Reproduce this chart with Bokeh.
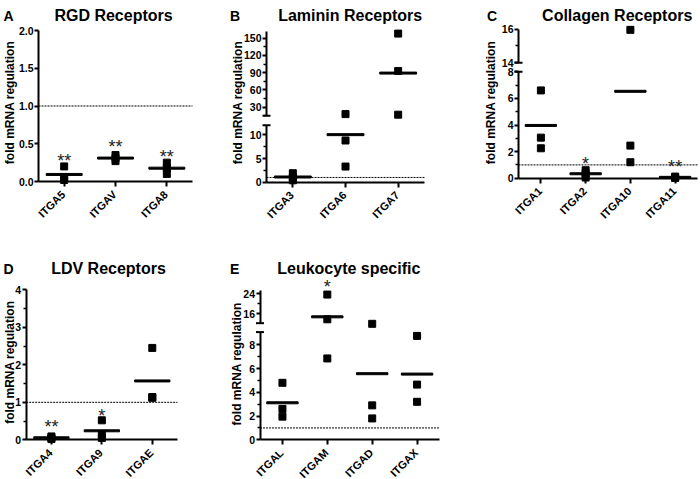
import math
import numpy as np
import pandas as pd
from bokeh.plotting import figure
from bokeh.models import Range1d, FixedTicker, NumeralTickFormatter, LinearAxis, ColumnDataSource
from bokeh.core.properties import value
from bokeh.embed import file_html
from bokeh.resources import INLINE

FONT = "Liberation Sans"
W, H = 700, 479

# ---------------- data ----------------
y_label = "fold mRNA regulation"

A_title, A_letter = "RGD Receptors", "A"
A_cats = ["ITGA5", "ITGAV", "ITGA8"]
A_vals = [[0.20, 0.06, 0.02], [0.35, 0.31, 0.27], [0.25, 0.18, 0.10]]
A_star = ["**", "**", "**"]
A_star_y = [0.34, 0.52, 0.39]

B_title, B_letter = "Laminin Receptors", "B"
B_cats = ["ITGA3", "ITGA6", "ITGA7"]
B_vals = [[1.9, 1.0, 0.4], [18.0, 8.8, 3.3], [158.0, 93.0, 17.0]]
B_star = ["", "", ""]
B_star_y = [None, None, None]

C_title, C_letter = "Collagen Receptors", "C"
C_cats = ["ITGA1", "ITGA2", "ITGA10", "ITGA11"]
C_vals = [[6.6, 3.05, 2.25], [0.6, 0.35, 0.05], [15.95, 2.45, 1.2], [0.12, 0.05, 0.02]]
C_star = ["", "*", "", "**"]
C_star_y = [None, 1.45, None, 1.2]

D_title, D_letter = "LDV Receptors", "D"
D_cats = ["ITGA4", "ITGA9", "ITGAE"]
D_vals = [[0.09, 0.05, 0.02], [0.52, 0.15, 0.05], [2.45, 1.14, 1.12]]
D_star = ["**", "*", ""]
D_star_y = [0.47, 0.78, None]

E_title, E_letter = "Leukocyte specific", "E"
E_cats = ["ITGAL", "ITGAM", "ITGAD", "ITGAX"]
E_vals = [[4.8, 2.6, 1.95], [23.7, 13.8, 6.85], [12.0, 2.9, 1.8], [8.75, 4.65, 3.2]]
E_star = ["", "*", "", ""]
E_star_y = [None, 28.6, None, None]

reference_level = 1.0

# y-axis ticks (major / minor) and drawn extent of each axis segment
A_ticks, A_minor, A_bounds = [0, 0.5, 1.0, 1.5, 2.0], [], (0, 2)
B_up_ticks, B_up_minor, B_up_bounds = [30, 60, 90, 120, 150], [15, 45, 75, 105, 135], (15, 161)
B_lo_ticks, B_lo_minor, B_lo_bounds = [0, 5, 10], [2.5, 7.5], (0, 12)
C_up_ticks, C_up_minor, C_up_bounds = [14, 16], [15], (14, 16)
C_lo_ticks, C_lo_minor, C_lo_bounds = [0, 2, 4, 6, 8], [1, 3, 5, 7], (0, 8)
D_ticks, D_minor, D_bounds = [0, 1, 2, 3, 4], [0.5, 1.5, 2.5, 3.5], (0, 4)
E_up_ticks, E_up_minor, E_up_bounds = [16, 24], [20], (12.25, 25.3)
E_lo_ticks, E_lo_minor, E_lo_bounds = [0, 2, 4, 6, 8], [1, 3, 5, 7], (0, 9.07)

# ---------------- panel layout (pixel placement on the page) ----------------
panels = [
    dict(key="A", title=A_title, letter=A_letter, cats=A_cats, vals=A_vals, star=A_star,
         star_y=A_star_y, xframe=(38, 192), title_xy=(113, 15), letter_xy=(3, 15),
         label_xy=(9, 102),
         segs=[dict(name="lo", anchors=((0, 181), (2, 30)), ticks=A_ticks, minor=A_minor,
                    bounds=A_bounds, lo=-np.inf, hi=np.inf, cap=None, fmt="0.0")]),
    dict(key="B", title=B_title, letter=B_letter, cats=B_cats, vals=B_vals, star=B_star,
         star_y=B_star_y, xframe=(266, 424), title_xy=(349.7, 15), letter_xy=(229.5, 15),
         label_xy=(237.2, 102),
         segs=[dict(name="up", anchors=((150, 37.7), (30, 106.7)), ticks=B_up_ticks,
                    minor=B_up_minor, bounds=B_up_bounds, lo=B_lo_bounds[1], hi=np.inf,
                    cap=B_up_bounds[0], fmt=None),
               dict(name="lo", anchors=((0, 181.7), (10, 134.3)), ticks=B_lo_ticks,
                    minor=B_lo_minor, bounds=B_lo_bounds, lo=-np.inf, hi=B_lo_bounds[1],
                    cap=B_lo_bounds[1], fmt=None)]),
    dict(key="C", title=C_title, letter=C_letter, cats=C_cats, vals=C_vals, star=C_star,
         star_y=C_star_y, xframe=(518, 697), title_xy=(616.7, 15), letter_xy=(486.5, 15),
         label_xy=(490.8, 102),
         segs=[dict(name="up", anchors=((16, 28.5), (14, 62.3)), ticks=C_up_ticks,
                    minor=C_up_minor, bounds=C_up_bounds, lo=C_lo_bounds[1], hi=np.inf,
                    cap=C_up_bounds[0], fmt=None),
               dict(name="lo", anchors=((0, 177.7), (8, 71.3)), ticks=C_lo_ticks,
                    minor=C_lo_minor, bounds=C_lo_bounds, lo=-np.inf, hi=C_lo_bounds[1],
                    cap=C_lo_bounds[1], fmt=None)]),
    dict(key="D", title=D_title, letter=D_letter, cats=D_cats, vals=D_vals, star=D_star,
         star_y=D_star_y, xframe=(25.7, 177), title_xy=(108, 268.3), letter_xy=(3, 268.3),
         label_xy=(9, 361.7),
         segs=[dict(name="lo", anchors=((0, 439.3), (4, 289.3)), ticks=D_ticks,
                    minor=D_minor, bounds=D_bounds, lo=-np.inf, hi=np.inf, cap=None,
                    fmt=None)]),
    dict(key="E", title=E_title, letter=E_letter, cats=E_cats, vals=E_vals, star=E_star,
         star_y=E_star_y, xframe=(259.5, 439), title_xy=(348.3, 268.3),
         letter_xy=(229.5, 268.3), label_xy=(236.7, 363.3),
         segs=[dict(name="up", anchors=((24, 293.3), (16, 313.3)), ticks=E_up_ticks,
                    minor=E_up_minor, bounds=E_up_bounds, lo=E_lo_bounds[1], hi=np.inf,
                    cap=E_up_bounds[0], fmt=None),
               dict(name="lo", anchors=((0, 439.3), (8, 344.3)), ticks=E_lo_ticks,
                    minor=E_lo_minor, bounds=E_lo_bounds, lo=-np.inf, hi=E_lo_bounds[1],
                    cap=E_lo_bounds[1], fmt=None)]),
]


# ---------------- helpers ----------------
def long_form(vals):
    xs, ys = [], []
    for i, vs in enumerate(vals):
        for v in vs:
            xs.append(i + 1)
            ys.append(v)
    return pd.DataFrame({"x": xs, "y": ys})


def mean_form(vals):
    return pd.DataFrame({"x": list(range(1, len(vals) + 1)),
                         "y": [float(np.mean(v)) for v in vals]})


def star_form(stars, star_y):
    rows = [(i + 1, y, s) for i, (s, y) in enumerate(zip(stars, star_y)) if s]
    return pd.DataFrame(rows, columns=["x", "y", "t"])


def style_axis(ax, size):
    ax.axis_line_width = 2
    ax.axis_line_color = "black"
    ax.major_tick_line_width = 2
    ax.major_tick_line_color = "black"
    ax.major_tick_in = 0
    ax.minor_tick_in = 0
    ax.major_label_text_font = FONT
    ax.major_label_text_font_style = "bold"
    ax.major_label_text_font_size = size
    ax.major_label_text_color = "black"


# the page canvas: pixel coordinates, y measured downwards from the top
p = figure(width=W, height=H, x_range=Range1d(0, W), y_range=Range1d(H, 0),
           x_axis_location=None, y_axis_location=None, toolbar_location=None,
           output_backend="svg", min_border=0, min_border_left=0, min_border_right=0,
           min_border_top=0, min_border_bottom=0)
p.outline_line_color = None
p.background_fill_color = "white"
p.border_fill_color = "white"
p.grid.grid_line_color = None

# category / value scales of each panel
xr, yr = {}, {}
for pn in panels:
    n = len(pn["cats"])
    fl, fr = pn["xframe"]
    pc = (fr - fl) / n
    xr[pn["key"]] = Range1d(0.5 - fl / pc, n + 0.5 + (W - fr) / pc)
    for s in pn["segs"]:
        (v1, p1), (v2, p2) = s["anchors"]
        scale = (p1 - p2) / (v2 - v1)
        yr[pn["key"] + s["name"]] = Range1d(v1 - (H - p1) / scale, v1 + p1 / scale)
p.extra_x_ranges = xr
p.extra_y_ranges = yr

titles_x, titles_y, titles = [], [], []
letters_x, letters_y, letters = [], [], []
labels_x, labels_y = [], []

for pn in panels:
    key, cats, vals = pn["key"], pn["cats"], pn["vals"]
    n = len(cats)
    titles_x.append(pn["title_xy"][0]); titles_y.append(pn["title_xy"][1]); titles.append(pn["title"])
    letters_x.append(pn["letter_xy"][0]); letters_y.append(pn["letter_xy"][1]); letters.append(pn["letter"])
    labels_x.append(pn["label_xy"][0]); labels_y.append(pn["label_xy"][1])

    for s in pn["segs"]:
        yname = key + s["name"]
        kw = dict(x_range_name=key, y_range_name=yname)
        lo, hi = s["lo"], s["hi"]
        pts = long_form(vals)
        pts = pts[(pts.y > lo) & (pts.y <= hi)]
        mns = mean_form(vals)
        mns = mns[(mns.y > lo) & (mns.y <= hi)]
        sts = star_form(pn["star"], pn["star_y"])
        if len(sts):
            sts = sts[(sts.y > lo) & (sts.y <= hi)]

        if s["name"] == "lo":
            p.segment(x0=[0.5], x1=[n + 0.5], y0=[reference_level], y1=[reference_level],
                      line_color="black", line_width=1, line_dash="2 1", **kw)
        p.rect("x", "y", width=0.7, height=2, height_units="screen",
               source=ColumnDataSource(mns), color="black", **kw)
        p.scatter("x", "y", source=ColumnDataSource(pts), marker="square", size=7,
                  color="black", **kw)
        if len(sts):
            p.text("x", "y", text="t", source=ColumnDataSource(sts), text_align="center",
                   text_baseline="middle", y_offset=5, text_font=value(FONT),
                   text_font_size="18px", text_color="#222222", **kw)
        if s["cap"] is not None:
            p.scatter(x=[0.5], y=[s["cap"]], marker="dash", size=8, line_width=2,
                      color="black", **kw)

        ya = LinearAxis(fixed_location=0.5, bounds=s["bounds"],
                        ticker=FixedTicker(ticks=s["ticks"], minor_ticks=s["minor"]), **kw)
        if s["fmt"]:
            ya.formatter = NumeralTickFormatter(format=s["fmt"])
        style_axis(ya, "10.5px")
        ya.major_tick_out = 4
        ya.minor_tick_out = 3
        ya.minor_tick_line_width = 1.5
        ya.minor_tick_line_color = "black"
        ya.major_label_standoff = 1
        p.add_layout(ya, "left")

        if s["name"] == "lo":
            xa = LinearAxis(fixed_location=0, bounds=(0.5, n + 0.5),
                            ticker=FixedTicker(ticks=list(range(1, n + 1)), minor_ticks=[]),
                            **kw)
            xa.major_label_overrides = {i + 1: "" for i in range(n)}
            style_axis(xa, "11px")
            xa.major_tick_out = 5
            xa.minor_tick_out = 0
            xa.major_label_standoff = 0
            p.add_layout(xa, "below")
            # slanted category names, hanging from the category ticks
            p.text(x=list(range(1, n + 1)), y=[0] * n, text=cats, angle=math.pi / 4,
                   text_align="right", text_baseline="middle", x_offset=-1, y_offset=11,
                   text_font=value(FONT), text_font_style="bold", text_font_size="11px",
                   text_color="black", **kw)

# panel titles, panel letters and the y-axis labels (page pixel coordinates)
p.text(x=titles_x, y=titles_y, text=titles, text_align="center", text_baseline="alphabetic",
       text_font=value(FONT), text_font_style="bold", text_font_size="16px",
       text_color="black")
p.text(x=letters_x, y=letters_y, text=letters, text_align="left", text_baseline="alphabetic",
       text_font=value(FONT), text_font_style="bold", text_font_size="14px",
       text_color="black")
p.text(x=labels_x, y=labels_y, text=[y_label] * len(labels_x), angle=math.pi / 2,
       text_align="center", text_baseline="middle", text_font=value(FONT),
       text_font_style="bold", text_font_size="12px", text_color="black")

with open("out.html", "w") as f:
    f.write(file_html(p, INLINE))
